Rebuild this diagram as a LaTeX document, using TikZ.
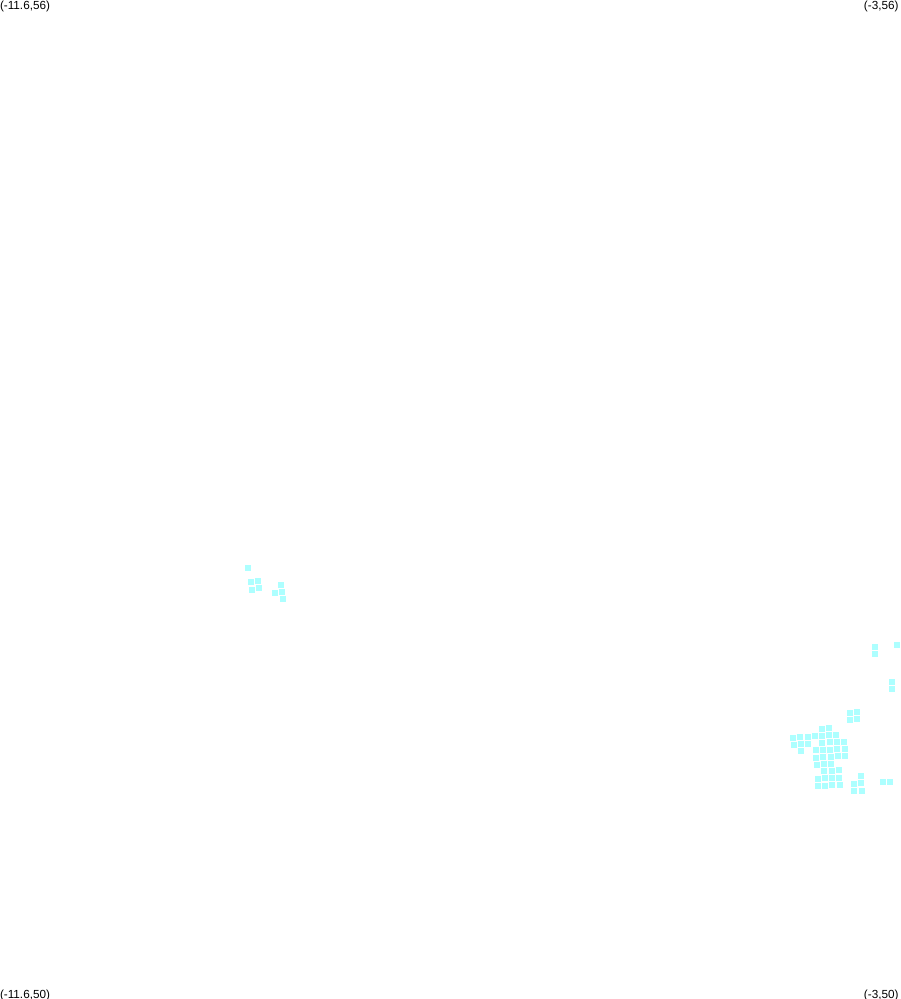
\documentclass[tikz,border=0pt]{standalone}
\usepackage{fontspec}
\setmainfont{Liberation Sans}
\definecolor{cellcyan}{rgb}{0.68,1,1}
\tikzset{every picture/.style={line width=0.75pt}}
\tikzset{corner/.style={inner sep=0pt,font=\fontsize{8.8}{10}\selectfont}}
\begin{document}
\begin{tikzpicture}[x=0.75pt,y=0.75pt,yscale=-1,xscale=1]
\useasboundingbox (0,0) rectangle (900,999);

%left group
\foreach \cx/\cy in {248/568,251/582,258/581,252/590,259/588,281/585,275/593,282/592,283/599}
  \fill [cellcyan] (\cx-2.9,\cy-2.9) rectangle (\cx+2.9,\cy+2.9);

%right edge
\foreach \cx/\cy in {875/647,875/654,897/645,892/682,892/689}
  \fill [cellcyan] (\cx-2.9,\cy-2.9) rectangle (\cx+2.9,\cy+2.9);

%main group
\foreach \cx/\cy in {850/713,857/712,850/720,857/719,
  822/729,829/728,
  793/738,800/737,808/737,815/736,822/736,829/735,836/735,
  794/745,801/744,808/744,822/743,830/742,837/742,844/742,
  801/751,816/750,823/750,830/750,837/749,845/749,
  816/758,823/757,831/757,838/756,845/756,
  817/765,824/764,831/764,
  824/771,832/771,839/770,
  861/776,
  818/779,825/778,832/778,839/778,
  854/784,861/783,883/782,890/782,
  818/786,825/786,832/785,840/785,
  854/791,862/791}
  \fill [cellcyan] (\cx-2.9,\cy-2.9) rectangle (\cx+2.9,\cy+2.9);

\node [corner,anchor=north west] (topleft) at (-0.5,0.5) {(-11.6,56)};
\node [corner,anchor=north east] (topright) at (899,0.5) {(-3,56)};
\node [corner,anchor=south west] (bottomleft) at (-0.5,1001) {(-11.6,50)};
\node [corner,anchor=south east] (bottomright) at (899,1001) {(-3,50)};

\end{tikzpicture}
\end{document}
